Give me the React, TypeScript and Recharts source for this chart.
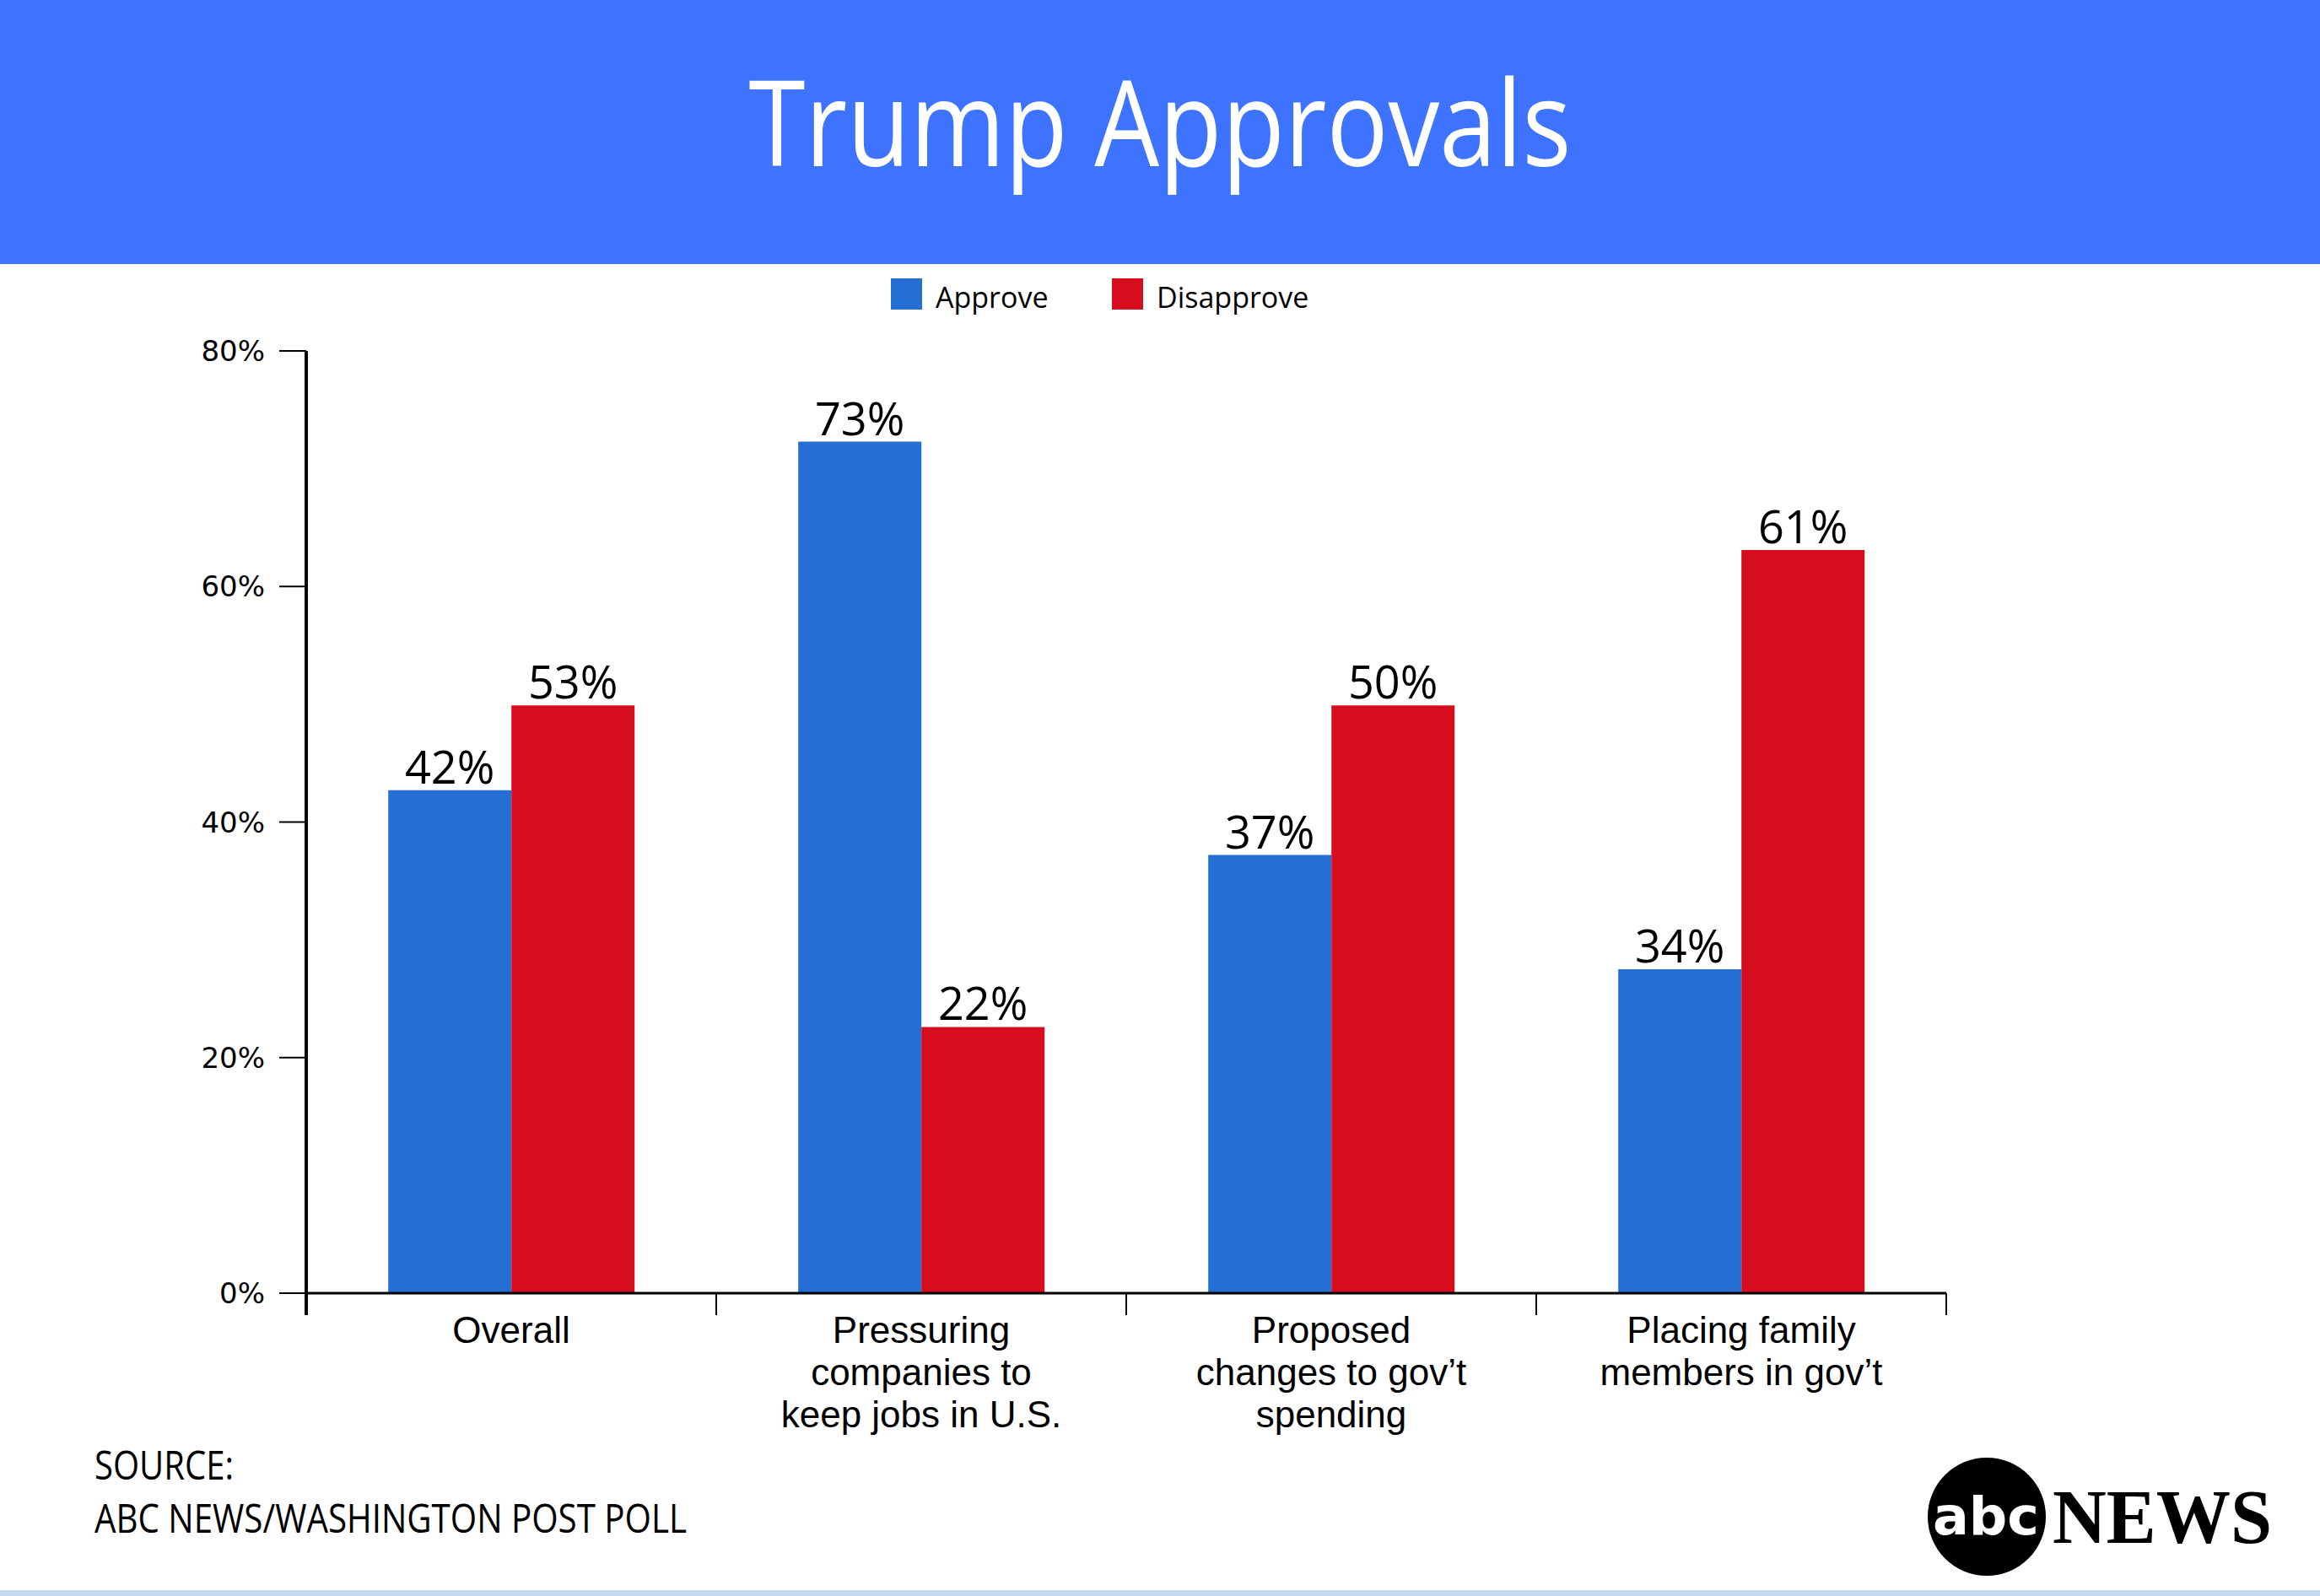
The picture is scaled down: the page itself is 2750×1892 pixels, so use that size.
import * as React from 'react';
import { Bar, BarChart, LabelList, XAxis, YAxis } from 'recharts';

// values (bar heights) and the printed labels above them
const categories = [
  'Overall',
  'Pressuring\ncompanies to\nkeep jobs in U.S.',
  'Proposed\nchanges to gov’t\nspending',
  'Placing family\nmembers in gov’t',
];
const approveValues = [42.7, 72.3, 37.2, 27.5];
const disapproveValues = [49.9, 22.6, 49.9, 63.1];
const approveLabels = ['42%', '73%', '37%', '34%'];
const disapproveLabels = ['53%', '22%', '50%', '61%'];
const seriesNames = ['Approve', 'Disapprove'];
const yTicks = [0, 20, 40, 60, 80];

const BLUE = '#256ED3';
const RED = '#D60D1F';
const HEADER = '#3D73FF';

const W = 2750;
const H = 1892;
const PLOT_LEFT = 363;
const PLOT_RIGHT = 2307;
const PLOT_TOP = 416;
const PLOT_BOTTOM = 1533;
const Y_AXIS_W = 100;
const X_AXIS_H = 150;
const BAND = (PLOT_RIGHT - PLOT_LEFT) / categories.length;

const data = categories.map((category, i) => ({
  category,
  approve: approveValues[i],
  disapprove: disapproveValues[i],
  approveLabel: approveLabels[i],
  disapproveLabel: disapproveLabels[i],
}));

function CategoryTick(props: any) {
  const { x, y, index, payload } = props;
  const lines = String(payload.value).split('\n');
  const half = BAND / 2;
  const last = index === categories.length - 1;
  return (
    <g>
      <line x1={x - half} x2={x - half} y1={y} y2={y + 26} stroke="#000" strokeWidth={index === 0 ? 4 : 2} />
      {last && <line x1={x + half} x2={x + half} y1={y} y2={y + 26} stroke="#000" strokeWidth={2} />}
      <text x={x} y={y} textAnchor="middle" fontSize={44} fontFamily="'Liberation Sans', sans-serif" fill="#000">
        {lines.map((l, i) => (
          <tspan key={i} x={x} y={y + 59 + i * 50}>
            {l}
          </tspan>
        ))}
      </text>
    </g>
  );
}

function Overlay() {
  const legendX = [1056, 1318];
  const colors = [BLUE, RED];
  return (
    <svg width={W} height={H} style={{ position: 'absolute', left: 0, top: 0, pointerEvents: 'none' }}>
      <rect x={0} y={0} width={W} height={313} fill={HEADER} />
      <text
        x={W / 2}
        y={197}
        textAnchor="middle"
        fontSize={141}
        fontFamily="'Open Sans', sans-serif"
        fill="#fff"
        textLength={975}
        lengthAdjust="spacingAndGlyphs"
      >
        Trump Approvals
      </text>

      {seriesNames.map((name, i) => (
        <g key={name}>
          <rect x={legendX[i]} y={330} width={37} height={37} fill={colors[i]} />
          <text x={legendX[i] + 53} y={365} fontSize={34} fontFamily="'Open Sans', sans-serif" fill="#000">
            {name}
          </text>
        </g>
      ))}

      <text x={112} y={1754} fontSize={48} fontFamily="'Open Sans', sans-serif" fill="#000" textLength={165} lengthAdjust="spacingAndGlyphs">
        SOURCE:
      </text>
      <text x={112} y={1817} fontSize={48} fontFamily="'Open Sans', sans-serif" fill="#000" textLength={702} lengthAdjust="spacingAndGlyphs">
        ABC NEWS/WASHINGTON POST POLL
      </text>

      <circle cx={2355} cy={1798} r={70} fill="#000" />
      <text
        x={2354}
        y={1819}
        textAnchor="middle"
        fontSize={62}
        fontWeight={700}
        fontFamily="'DejaVu Sans', sans-serif"
        fill="#fff"
        textLength={126}
        lengthAdjust="spacingAndGlyphs"
      >
        abc
      </text>
      <text
        x={2433}
        y={1829}
        fontSize={92}
        fontWeight={700}
        fontFamily="'Liberation Serif', serif"
        fill="#000"
        textLength={260}
        lengthAdjust="spacingAndGlyphs"
      >
        NEWS
      </text>

      <rect x={0} y={1885} width={W} height={7} fill="#C4D9EF" />
    </svg>
  );
}

export default function App() {
  return (
    <div style={{ position: 'absolute', left: 0, top: 0, width: W, height: H, background: '#fff', overflow: 'hidden' }}>
      <BarChart
        width={W}
        height={H}
        data={data}
        margin={{ top: PLOT_TOP, left: PLOT_LEFT - Y_AXIS_W, right: W - PLOT_RIGHT, bottom: H - PLOT_BOTTOM - X_AXIS_H }}
        barCategoryGap="20%"
        barGap={0}
      >
        <XAxis
          dataKey="category"
          interval={0}
          height={X_AXIS_H}
          tickLine={false}
          tickSize={0}
          tickMargin={0}
          axisLine={{ stroke: '#000', strokeWidth: 3 }}
          tick={<CategoryTick />}
        />
        <YAxis
          domain={[0, 80]}
          ticks={yTicks}
          width={Y_AXIS_W}
          tickSize={32}
          tickMargin={17}
          tickFormatter={(v: number) => `${v}%`}
          axisLine={{ stroke: '#000', strokeWidth: 4 }}
          tickLine={{ stroke: '#000', strokeWidth: 2 }}
          tick={{ fontSize: 34, fill: '#000', fontFamily: "'DejaVu Sans', sans-serif" }}
        />
        <Bar dataKey="approve" name={seriesNames[0]} fill={BLUE} isAnimationActive={false}>
          <LabelList dataKey="approveLabel" position="top" offset={8} fill="#000" fontSize={54} fontFamily="'Open Sans', sans-serif" />
        </Bar>
        <Bar dataKey="disapprove" name={seriesNames[1]} fill={RED} isAnimationActive={false}>
          <LabelList dataKey="disapproveLabel" position="top" offset={8} fill="#000" fontSize={54} fontFamily="'Open Sans', sans-serif" />
        </Bar>
      </BarChart>
      <Overlay />
    </div>
  );
}
